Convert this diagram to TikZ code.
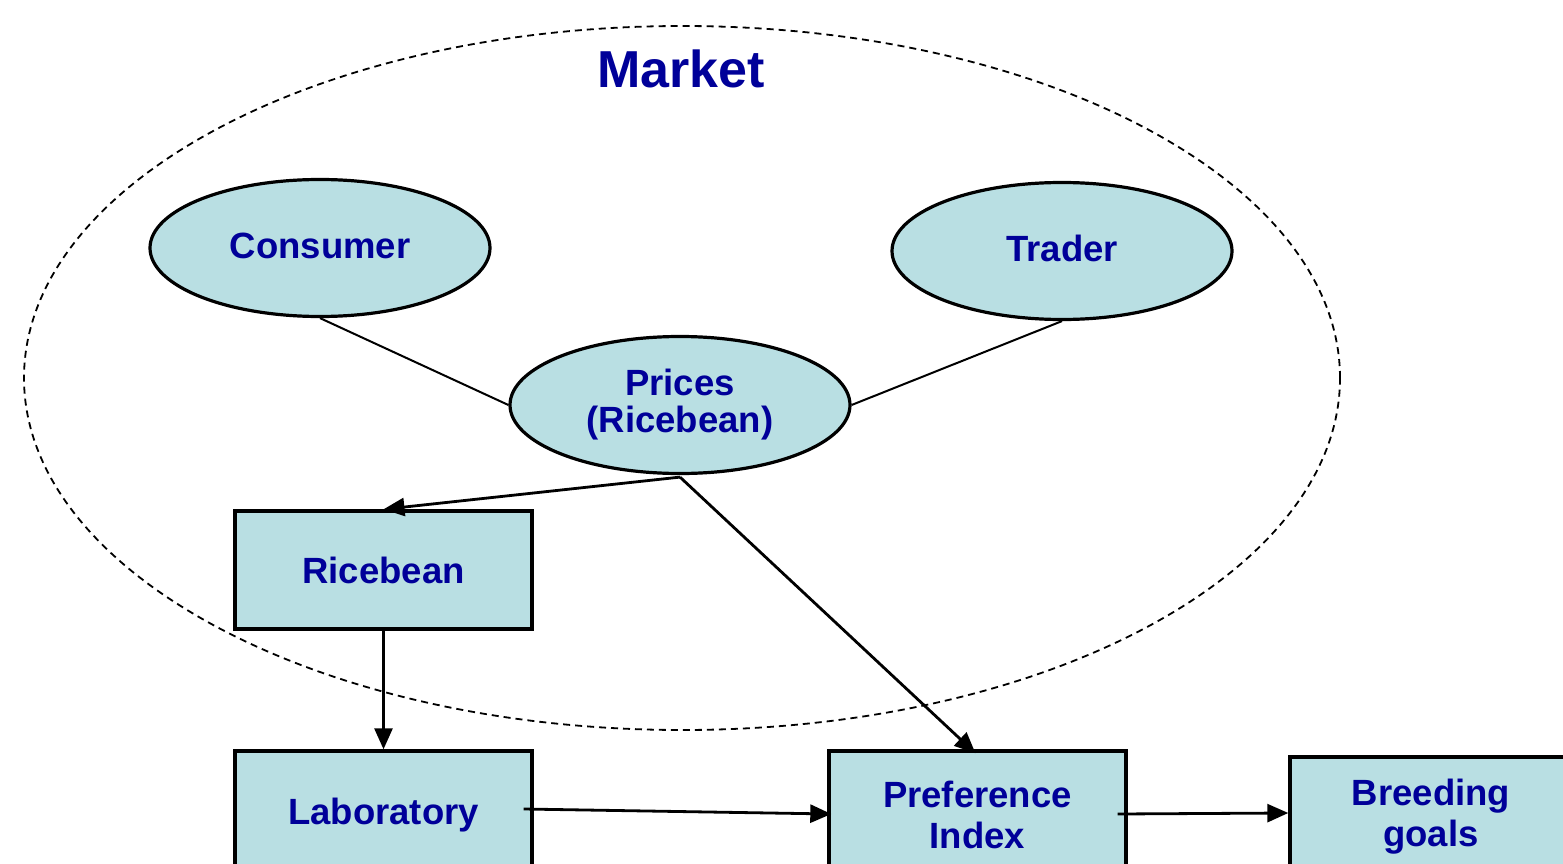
\documentclass[tikz,border=0pt]{standalone}
\usepackage{fontspec}
\setmainfont{Liberation Sans}
\usetikzlibrary{shapes.geometric,arrows.meta}
\definecolor{boxfill}{RGB}{185,223,227}
\definecolor{txtblue}{RGB}{0,0,153}
\tikzset{
  lbl/.style={font=\fontsize{36.5}{41}\selectfont\bfseries, text=txtblue, align=center},
  oval/.style={ellipse, draw=black, line width=3.2pt, fill=boxfill, minimum width=340pt, minimum height=137pt, inner sep=0pt, lbl},
  rbox/.style={rectangle, draw=black, line width=3.4pt, fill=boxfill, inner sep=0pt, lbl},
  link/.style={draw=black, line width=2pt},
  arr/.style={draw=black, line width=2.8pt, -{Triangle[length=21pt,width=18pt]}},
}
\begin{document}
\begin{tikzpicture}[x=1pt,y=-1pt]
\useasboundingbox (0,0) rectangle (1563,864);
\clip (0,0) rectangle (1563,864);
\node[ellipse, draw=black, dashed, dash pattern=on 7pt off 5pt, line width=1.8pt, minimum width=1316pt, minimum height=704pt, inner sep=0pt] (market) at (682,378) {};
\node[lbl, font=\fontsize{52}{58}\selectfont\bfseries] (mlabel) at (681,69) {Market};
\node[oval, text height=27pt, text depth=6pt] (consumer) at (320,248) {Consumer};
\node[oval, text height=27pt, text depth=6pt] (trader) at (1062,251) {Trader};
\node[oval, font=\fontsize{36.5}{37}\selectfont\bfseries] (prices) at (680,405) {Prices\\(Ricebean)};
\node[rbox, minimum width=297pt, minimum height=118pt] (ricebean) at (383.5,570) {Ricebean};
\node[rbox, minimum width=297pt, minimum height=128pt] (lab) at (383.5,815) {Laboratory};
\node[rbox, minimum width=297pt, minimum height=128pt, font=\fontsize{36.5}{41}\selectfont\bfseries] (pref) at (977.5,815) {Preference\\Index};
\node[rbox, minimum width=282pt, minimum height=120pt, font=\fontsize{36.5}{41}\selectfont\bfseries] (breed) at (1431,817) {Breeding\\goals};
\draw[link] (consumer.south) -- (prices.west);
\draw[link] (trader.south) -- (prices.east);
\draw[arr] ([yshift=-2pt]prices.south) -- (ricebean.north);
\draw[arr] ([yshift=-2pt]prices.south) -- ([xshift=-2pt,yshift=-4pt]pref.north);
\draw[arr] (ricebean.south) -- (lab.north);
\draw[arr] ([xshift=-10pt,yshift=6pt]lab.east) -- ([xshift=4pt,yshift=1pt]pref.west);
\draw[arr] ([xshift=-10pt,yshift=1pt]pref.east) -- ([yshift=4pt]breed.west);
\end{tikzpicture}
\end{document}
